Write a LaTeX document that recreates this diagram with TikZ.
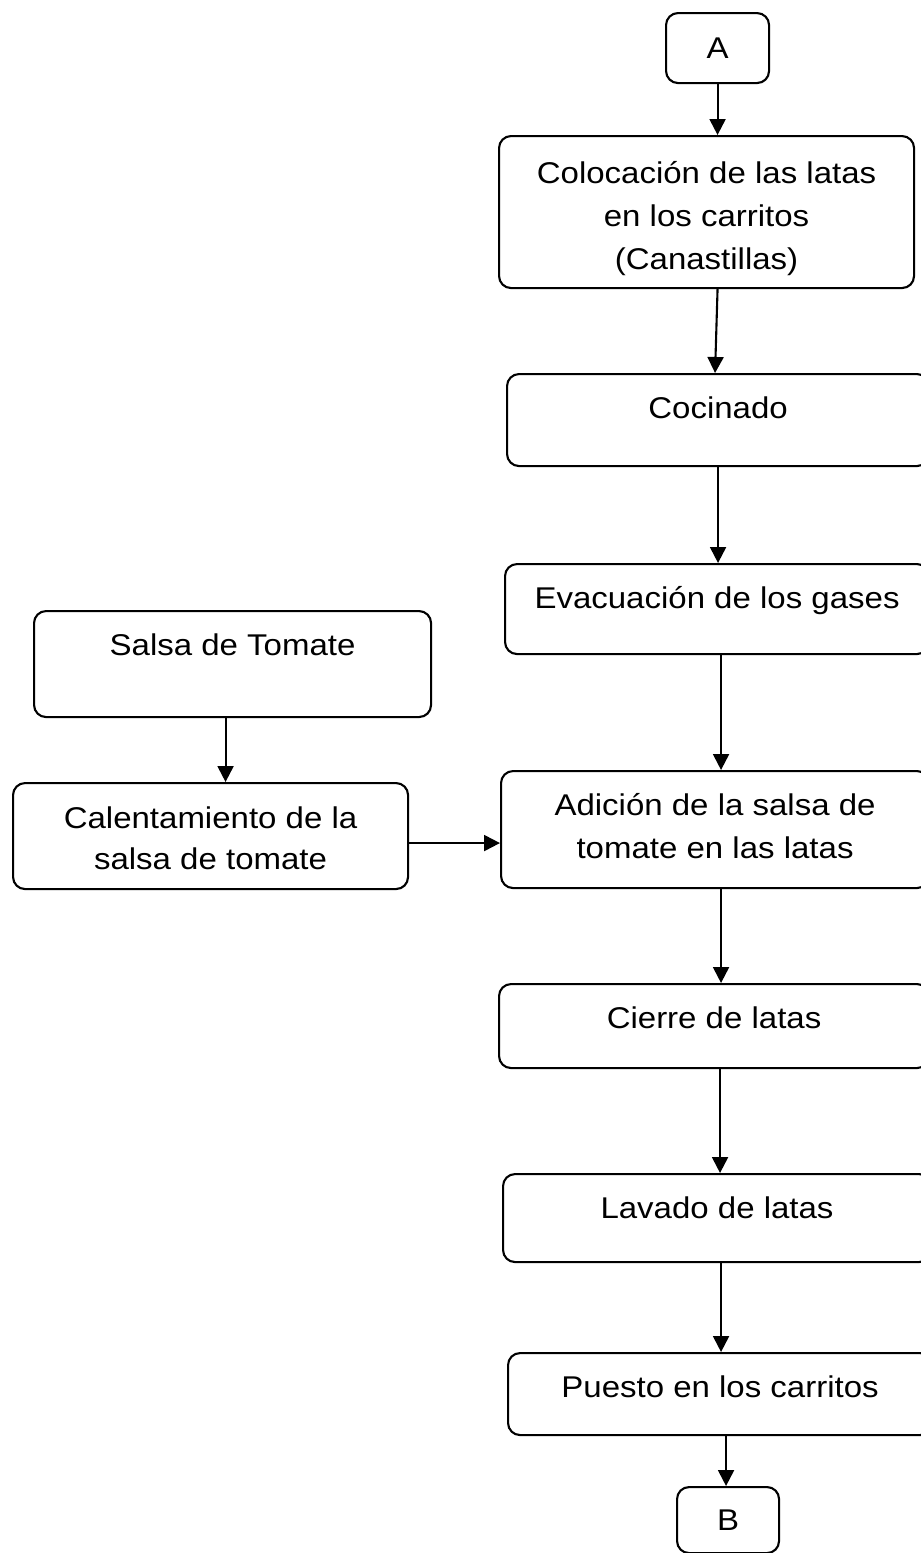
\documentclass[tikz,border=0pt]{standalone}
\usepackage{fontspec}
\setmainfont{Liberation Sans}[FakeStretch=1.1]
\usetikzlibrary{arrows.meta}
\tikzset{
    x=1pt, y=-1pt, % one unit is one pixel of the page, y runs down
    }

\begin{document}
\begin{tikzpicture}[
stepbox/.style={draw, line width=2.1pt, rounded corners=12pt, align=center, inner sep=0pt, anchor=north west, font=\fontsize{30}{43}\selectfont},
onebox/.style={stepbox, text height=44pt, text depth=#1},
arrowline/.style={line width=2.1pt, -{Triangle[length=16pt,width=16pt]}},
]
\useasboundingbox (0,0) rectangle (921,1553);

\node[stepbox, minimum width=103pt, minimum height=70pt] (conA) at (665,12) {A};
\node[onebox=19pt, text height=133pt, minimum width=415pt] (colocacion) at (498,135) {Colocación de las latas\\en los carritos\\(Canastillas)};
\node[onebox=48pt, minimum width=422pt] (cocinado) at (506,373) {Cocinado};
\node[onebox=46pt, minimum width=424pt] (evacuacion) at (504,563) {Evacuación de los gases};
\node[onebox=62pt, minimum width=397pt] (salsa) at (33,610) {Salsa de Tomate};
\node[onebox=20pt, text height=86pt, minimum width=395pt] (calentamiento) at (12,782) {Calentamiento de la\\[-2pt]salsa de tomate};
\node[onebox=30pt, text height=87pt, minimum width=428pt] (adicion) at (500,770) {Adición de la salsa de\\tomate en las latas};
\node[onebox=40pt, minimum width=430pt] (cierre) at (498,983) {Cierre de latas};
\node[onebox=44pt, minimum width=428pt] (lavado) at (502,1173) {Lavado de latas};
\node[onebox=38pt, minimum width=424pt] (puesto) at (507,1352) {Puesto en los carritos};
\node[stepbox, minimum width=102pt, minimum height=66pt] (conB) at (676,1486) {B};

\draw[arrowline] (conA.south) -- (conA.south |- colocacion.north);
\draw[arrowline] ([xshift=11pt]colocacion.south) -- ([xshift=-3pt]cocinado.north);
\draw[arrowline] (cocinado.south) -- (cocinado.south |- evacuacion.north);
\draw[arrowline] ([xshift=4pt]evacuacion.south) -- ([xshift=4pt]evacuacion.south |- adicion.north);
\draw[arrowline] ([xshift=-7pt]salsa.south) -- ([xshift=-7pt]salsa.south |- calentamiento.north);
\draw[arrowline] ([yshift=-7pt]calentamiento.east) -- ([yshift=-7pt]calentamiento.east -| adicion.west);
\draw[arrowline] ([xshift=6pt]adicion.south) -- ([xshift=6pt]adicion.south |- cierre.north);
\draw[arrowline] ([xshift=6pt]cierre.south) -- ([xshift=6pt]cierre.south |- lavado.north);
\draw[arrowline] ([xshift=4pt]lavado.south) -- ([xshift=4pt]lavado.south |- puesto.north);
\draw[arrowline] ([xshift=6pt]puesto.south) -- ([xshift=6pt]puesto.south |- conB.north);
\end{tikzpicture}
\end{document}
